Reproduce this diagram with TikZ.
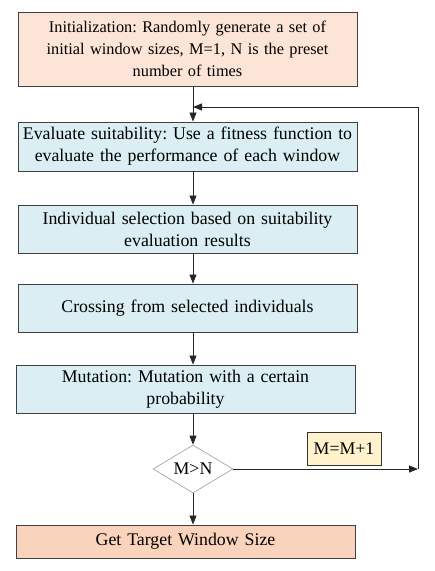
\documentclass[tikz,border=0pt]{standalone}
\usepackage{fontspec}
\setmainfont{Liberation Serif}
\frenchspacing
\usetikzlibrary{arrows.meta,shapes.geometric}
\definecolor{peachA}{HTML}{FCE4D6}
\definecolor{peachB}{HTML}{F9D3BC}
\definecolor{blueA}{HTML}{DAEEF3}
\definecolor{yellowA}{HTML}{FFF2CC}
\begin{document}
\begin{tikzpicture}[x=1pt,y=-1pt,
  box/.style={draw=black!75,line width=0.9pt,minimum width=339pt,text width=335pt,align=center,inner sep=0pt,font=\fontsize{17.8}{22}\selectfont},
  arr/.style={-{Triangle[length=9pt,width=7pt]},line width=0.8pt,draw=black!85},
  ]
\useasboundingbox (0,0) rectangle (435,571);
\node[box,fill=peachA,minimum height=74pt,font=\fontsize{16.3}{22}\selectfont] (init) at (187.5,49) {Initialization: Randomly generate a set of\\ initial window sizes, M=1, N is the preset\\ number of times};
\node[box,fill=blueA,minimum height=49pt] (eval) at (187.5,146.5) {Evaluate suitability: Use a fitness function to\\ evaluate the performance of each window};
\node[box,fill=blueA,minimum height=48pt] (sel) at (187.5,229) {Individual selection based on suitability\\ evaluation results};
\node[box,fill=blueA,minimum height=48pt] (cross) at (187.5,308) {Crossing from selected individuals};
\node[box,fill=blueA,minimum height=48pt] (mut) at (185.5,389) {Mutation: Mutation with a certain\\ probability};
\node[diamond,draw=black!35,line width=0.7pt,minimum width=80pt,minimum height=48pt,inner sep=0pt,aspect=1.67,font=\fontsize{17.8}{20}\selectfont] (dec) at (193,469) {M>N};
\node[box,fill=peachB,minimum height=33pt] (out) at (185.5,541.5) {Get Target Window Size};
\node[draw=black!80,line width=0.9pt,fill=yellowA,minimum width=74pt,minimum height=33pt,inner sep=0pt,font=\fontsize{17.8}{20}\selectfont] (inc) at (344,448.5) {M=M+1};
\coordinate (r1) at (418,469);
\coordinate (r2) at (418,107);
\coordinate (j) at (193,107);
\draw[arr] (init.south -| j) -- (eval.north -| j);
\draw[arr] (eval.south -| j) -- (sel.north -| j);
\draw[arr] (sel.south -| j) -- (cross.north -| j);
\draw[arr] (cross.south -| j) -- (mut.north -| j);
\draw[arr] (mut.south -| j) -- (dec.north);
\draw[arr] (dec.south) -- (out.north -| j);
\draw[arr] (dec.east) -- (r1);
\draw[arr] (r1) -- (r2) -- (j);
\end{tikzpicture}
\end{document}
